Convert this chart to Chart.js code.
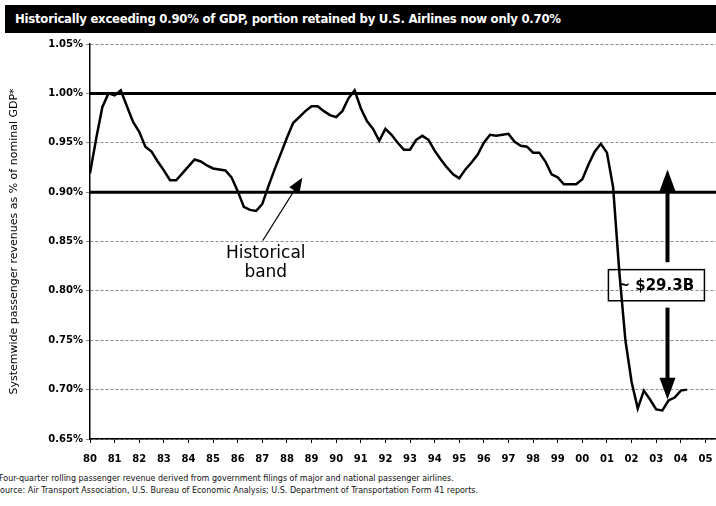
<!DOCTYPE html>
<html>
<head>
<meta charset="utf-8">
<script src="https://cdn.jsdelivr.net/npm/chart.js@4.4.1/dist/chart.umd.min.js"></script>
<style>
  body { margin: 0; background: #fff; width: 716px; height: 506px; overflow: hidden; position: relative; font-family: 'DejaVu Sans', sans-serif; }
  #titleBar { position: absolute; left: 5px; top: 5px; width: 711px; height: 28px; background: #000; color: #fff;
    font: bold 13px 'DejaVu Sans Condensed', 'DejaVu Sans', sans-serif; font-stretch: condensed; letter-spacing: -0.25px;
    line-height: 28px; padding-left: 10px; box-sizing: border-box; white-space: nowrap; }
  #chartBox { position: absolute; left: 0; top: 0; }
  #notes { position: absolute; left: -5px; top: 473px; font-size: 8px; line-height: 12px; color: #111; white-space: nowrap; }
</style>
</head>
<body>
<canvas id="chartBox" width="716" height="472"></canvas>
<div id="titleBar">Historically exceeding 0.90% of GDP, portion retained by U.S. Airlines now only 0.70%</div>
<div id="notes">
  <div>*Four-quarter rolling passenger revenue derived from government filings of major and national passenger airlines.</div>
  <div>Source: Air Transport Association, U.S. Bureau of Economic Analysis; U.S. Department of Transportation Form 41 reports.</div>
</div>
<script>
// quarterly, first point = 1980 Q1
const startYear = 1980
const revenueShare = [
  0.919, 0.954, 0.986, 1.000, 0.998, 1.003, 0.987, 0.971, 0.961, 0.946,
  0.941, 0.931, 0.922, 0.912, 0.912, 0.919, 0.926, 0.933, 0.931, 0.927,
  0.924, 0.923, 0.922, 0.915, 0.901, 0.885, 0.882, 0.881, 0.888, 0.906,
  0.923, 0.939, 0.955, 0.970, 0.976, 0.982, 0.987, 0.987, 0.982, 0.978,
  0.976, 0.982, 0.995, 1.003, 0.985, 0.972, 0.964, 0.952, 0.964, 0.958,
  0.950, 0.943, 0.943, 0.953, 0.957, 0.953, 0.942, 0.933, 0.925, 0.918,
  0.914, 0.923, 0.930, 0.938, 0.950, 0.958, 0.957, 0.958, 0.959, 0.951,
  0.947, 0.946, 0.940, 0.940, 0.931, 0.918, 0.915, 0.908, 0.908, 0.908,
  0.913, 0.928, 0.941, 0.949, 0.940, 0.905, 0.820, 0.750, 0.708, 0.681,
  0.699, 0.690, 0.680, 0.679, 0.689, 0.692, 0.699, 0.700
]
const bandTop = 1.00
const bandBottom = 0.90
const yMin = 0.65
const yMax = 1.05
const xMin = 1980
const xMax = 2005.43
const bandLabel = ['Historical', 'band']
const gapLabel = '~ $29.3B'
const yTitle = 'Systemwide passenger revenues as % of nominal GDP*'

var linePoints = revenueShare.map((v, i) => ({x: startYear + i / 4, y: v}))

const annotations = {
  id: 'annotations',
  afterDatasetsDraw(chart) {
    const ctx = chart.ctx
    const xs = chart.scales.x, ys = chart.scales.y
    const px = v => xs.getPixelForValue(v), py = v => ys.getPixelForValue(v)
    ctx.save()
    // historical band arrow
    var x1 = px(1987.02), y1 = py(0.851), x2 = px(1988.56), y2 = py(0.912)
    ctx.strokeStyle = '#000'; ctx.fillStyle = '#000'; ctx.lineWidth = 1.3
    ctx.beginPath(); ctx.moveTo(x1, y1); ctx.lineTo(x2, y2); ctx.stroke()
    var ang = Math.atan2(y2 - y1, x2 - x1)
    ctx.beginPath()
    ctx.moveTo(x2 + 3 * Math.cos(ang), y2 + 3 * Math.sin(ang))
    ctx.lineTo(x2 - 12 * Math.cos(ang) + 6 * Math.sin(ang), y2 - 12 * Math.sin(ang) - 6 * Math.cos(ang))
    ctx.lineTo(x2 - 12 * Math.cos(ang) - 6 * Math.sin(ang), y2 - 12 * Math.sin(ang) + 6 * Math.cos(ang))
    ctx.closePath(); ctx.fill()
    ctx.font = '17px "DejaVu Sans"'
    ctx.textAlign = 'center'; ctx.textBaseline = 'middle'
    ctx.fillText(bandLabel[0], px(1987.14), py(0.838))
    ctx.fillText(bandLabel[1], px(1987.14), py(0.819))
    // gap double arrow
    var ax = px(2003.46)
    ctx.lineWidth = 4
    ctx.beginPath(); ctx.moveTo(ax, py(0.829)); ctx.lineTo(ax, py(0.905)); ctx.stroke()
    ctx.beginPath(); ctx.moveTo(ax, py(0.783)); ctx.lineTo(ax, py(0.706)); ctx.stroke()
    ctx.beginPath(); ctx.moveTo(ax, py(0.923)); ctx.lineTo(ax - 8, py(0.901)); ctx.lineTo(ax + 8, py(0.901)); ctx.closePath(); ctx.fill()
    ctx.beginPath(); ctx.moveTo(ax, py(0.690)); ctx.lineTo(ax - 8, py(0.712)); ctx.lineTo(ax + 8, py(0.712)); ctx.closePath(); ctx.fill()
    // gap box
    var bx1 = px(2001.06), bx2 = px(2004.96), by1 = py(0.8215), by2 = py(0.790)
    ctx.lineWidth = 1.5
    ctx.strokeRect(bx1, by1, bx2 - bx1, by2 - by1)
    ctx.font = 'bold 15px "DejaVu Sans"'
    ctx.textAlign = 'left'
    ctx.fillText(gapLabel, bx1 + 9, (by1 + by2) / 2 + 1)
    ctx.restore()
  }
}

const chart = new Chart(document.getElementById('chartBox').getContext('2d'), {
  type: 'line',
  data: {
    datasets: [
      {data: linePoints, borderColor: '#000', borderWidth: 2.5, pointRadius: 0, tension: 0},
      {data: [{x: xMin, y: bandTop}, {x: xMax, y: bandTop}], borderColor: '#000', borderWidth: 3, pointRadius: 0},
      {data: [{x: xMin, y: bandBottom}, {x: xMax, y: bandBottom}], borderColor: '#000', borderWidth: 3, pointRadius: 0}
    ]
  },
  options: {
    responsive: false,
    animation: false,
    layout: {padding: {top: 44, right: 0, left: 0, bottom: 0}},
    plugins: {legend: {display: false}, tooltip: {enabled: false}},
    scales: {
      x: {
        type: 'linear', min: xMin, max: xMax,
        afterFit: s => { s.height = 33; s.paddingRight = 0 },
        grid: {drawOnChartArea: false, tickLength: 4, color: '#000'},
        border: {color: '#000', width: 1.5},
        ticks: {
          stepSize: 1, autoSkip: false, maxRotation: 0, padding: 10, color: '#000', includeBounds: false,
          font: {family: 'DejaVu Sans', weight: 'bold', size: 10},
          callback: v => Number.isInteger(v) ? String(v % 100).padStart(2, '0') : ''
        }
      },
      y: {
        min: yMin, max: yMax,
        afterFit: s => { s.width = 90 },
        grid: {color: '#888', lineWidth: 1, tickLength: 4},
        border: {color: '#000', width: 1.5, dash: [3, 2]},
        ticks: {
          stepSize: 0.05, padding: 3, color: '#000',
          font: {family: 'DejaVu Sans', weight: 'bold', size: 10},
          callback: v => v.toFixed(2) + '%'
        },
        title: {display: true, text: yTitle, color: '#000', padding: {top: 8, bottom: 0},
          font: {family: 'DejaVu Sans', size: 11}}
      }
    }
  },
  plugins: [annotations]
})
</script>
</body>
</html>
